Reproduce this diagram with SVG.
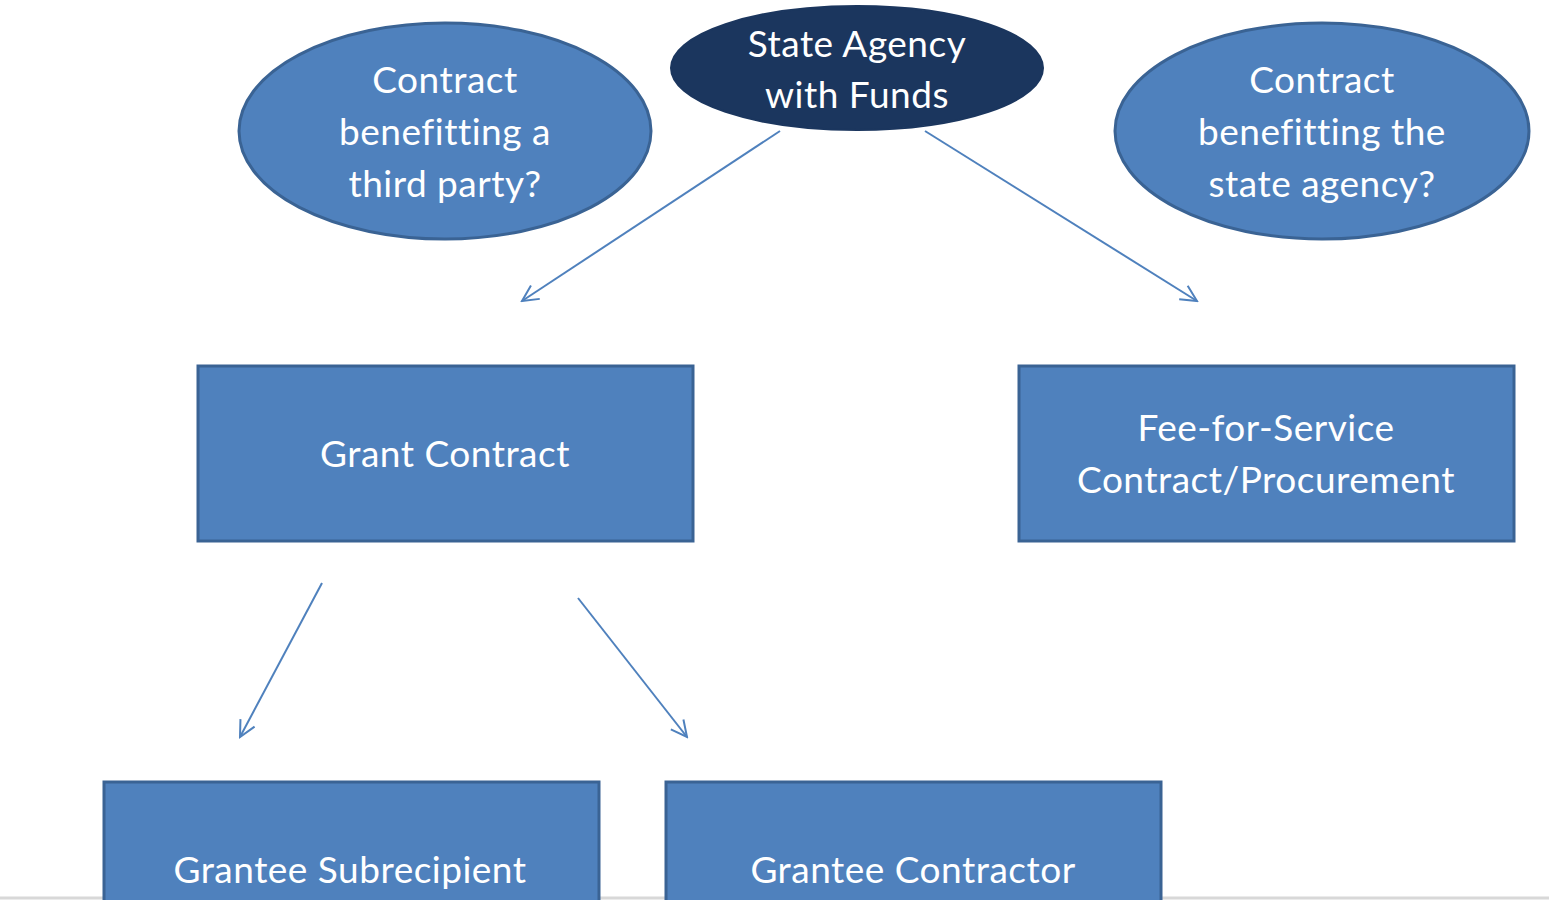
<svg xmlns="http://www.w3.org/2000/svg" width="1549" height="900" viewBox="0 0 1549 900">
<style>
.node{fill:#4F81BD;stroke:#3A6394;stroke-width:3}
.dark{fill:#1B365E;stroke:#1B365E;stroke-width:2}
.t{font-family:Lato,"Open Sans","Liberation Sans",sans-serif;font-size:37px;letter-spacing:0.5px;fill:#FFFFFF;text-anchor:middle}
.conn{stroke:#4F81BD;stroke-width:2;fill:none;marker-end:url(#arr)}
</style>
<defs>
<marker id="arr" viewBox="0 0 20 20" refX="18" refY="10" markerWidth="20" markerHeight="20" markerUnits="userSpaceOnUse" orient="auto">
<path d="M2,2 L18,10 L2,18" fill="none" stroke="#4F81BD" stroke-width="2"/>
</marker>
</defs>
<rect width="1549" height="900" fill="#FFFFFF"/>
<line x1="0" y1="898" x2="1549" y2="898" stroke="#D8D8D8" stroke-width="3"/>
<g id="connectors">
<line class="conn" x1="780" y1="131" x2="522" y2="301"/>
<line class="conn" x1="925" y1="131" x2="1197" y2="301"/>
<line class="conn" x1="322" y1="583" x2="240" y2="737"/>
<line class="conn" x1="578" y1="598" x2="687" y2="737"/>
</g>
<g id="third-party">
<ellipse class="node" cx="445" cy="131" rx="206" ry="108"/>
<text class="t" x="445" y="93">Contract</text>
<text class="t" x="445" y="145">benefitting a</text>
<text class="t" x="445" y="197">third party?</text>
</g>
<g id="state-agency">
<ellipse class="dark" cx="857" cy="68" rx="186" ry="62"/>
<text class="t" x="857" y="57">State Agency</text>
<text class="t" x="857" y="108">with Funds</text>
</g>
<g id="benefit-agency">
<ellipse class="node" cx="1322" cy="131" rx="207" ry="108"/>
<text class="t" x="1322" y="93">Contract</text>
<text class="t" x="1322" y="145">benefitting the</text>
<text class="t" x="1322" y="197">state agency?</text>
</g>
<g id="grant-contract">
<rect class="node" x="198" y="366" width="495" height="175"/>
<text class="t" x="445" y="467">Grant Contract</text>
</g>
<g id="fee-for-service">
<rect class="node" x="1019" y="366" width="495" height="175"/>
<text class="t" x="1266" y="441">Fee-for-Service</text>
<text class="t" x="1266" y="493">Contract/Procurement</text>
</g>
<g id="grantee-subrecipient">
<rect class="node" x="104" y="782" width="495" height="130"/>
<text class="t" x="350" y="883">Grantee Subrecipient</text>
</g>
<g id="grantee-contractor">
<rect class="node" x="666" y="782" width="495" height="130"/>
<text class="t" x="913" y="883">Grantee Contractor</text>
</g>
</svg>
